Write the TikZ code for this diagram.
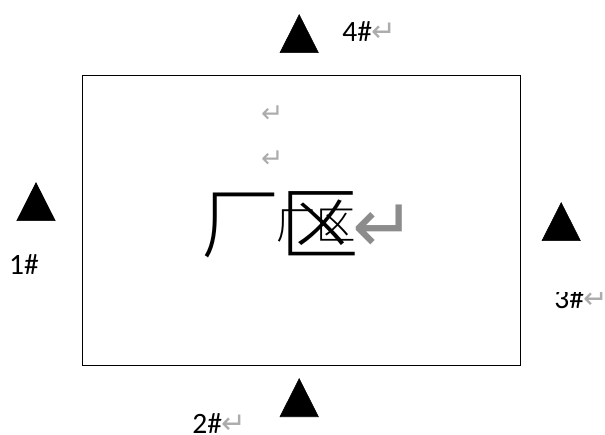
\documentclass[tikz,border=0pt]{standalone}
\usepackage{fontspec}
\setmainfont{Carlito}
\newfontfamily\cjkfont{Noto Sans CJK SC Light}
\newfontfamily\markfont{DejaVu Sans}
\usetikzlibrary{positioning,shapes.geometric}
\usepackage{xcolor}
\newcommand{\parmark}[1][gray!65]{{\markfont\textcolor{#1}{\symbol{"21B5}}}}
\tikzset{
  post/.style={draw=black,fill=black,isosceles triangle,isosceles triangle stretches,shape border rotate=90,minimum width=0.96cm,minimum height=0.95cm,inner sep=0pt,anchor=lower side},
  tag/.style={font=\fontsize{21}{23}\selectfont,inner sep=0pt,anchor=base west},
  blankmark/.style={font=\fontsize{19}{21}\selectfont,inner sep=0pt}
}
\begin{document}
\begin{tikzpicture}
\useasboundingbox (0,0) rectangle (15.125,10.85);
\node[draw=black,line width=0.7pt,minimum width=10.95cm,minimum height=7.25cm,inner sep=0pt] (plant) at (7.525,5.35) {};
\node[blankmark] (blank1) at (6.81,8) {\parmark};
\node[blankmark] (blank2) at (6.81,6.88) {\parmark};
% big title with the smaller copy over it
\node[font=\cjkfont\fontsize{56}{60}\selectfont,inner sep=0pt] (title) at (7.01,5.22) {厂区};
\node[font=\cjkfont\fontsize{28}{30}\selectfont,inner sep=0pt] (subtitle) at (7.9,5.22) {厂区};
\node[font=\fontsize{54}{58}\selectfont,inner sep=0pt] (titlemark) at (9.62,5.12) {\parmark[gray!90]};
% monitoring points
\node[post] (p1) at (0.9,5.325) {};
\node[post] (p2) at (7.48,0.425) {};
\node[post] (p3) at (14.03,4.825) {};
\node[post] (p4) at (7.48,9.525) {};
\node[tag] (t1) at (0.22,3.98) {1\#};
\node[tag] (t2) at (4.8,0.02) {2\#\parmark};
\node[tag] (t3) at (13.85,3.15) {3\#\parmark};
\node[tag] (t4) at (8.55,9.8) {4\#\parmark};
% top of the 3# label is cut in the scan
\fill[white] (13.6,3.55) rectangle (15.125,4);
\end{tikzpicture}
\end{document}
